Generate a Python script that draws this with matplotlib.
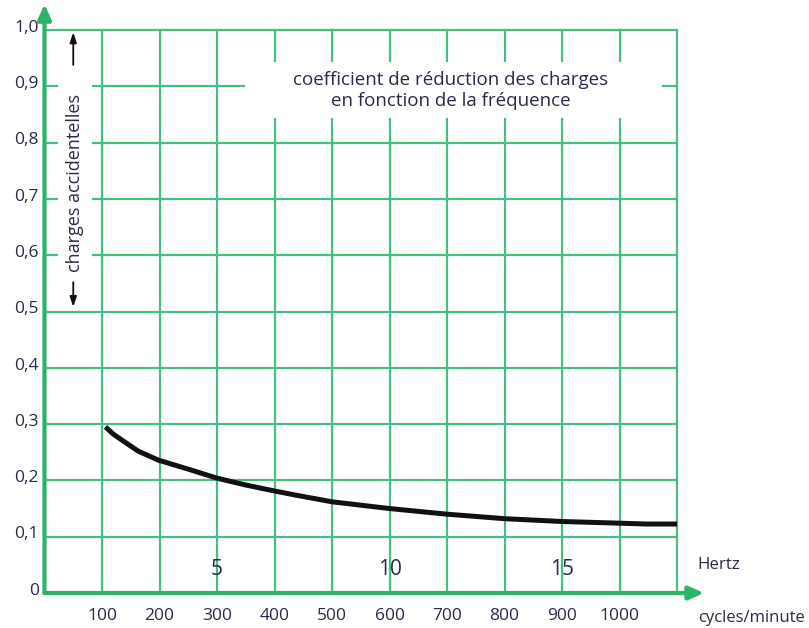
import matplotlib
matplotlib.use("Agg")
import matplotlib.pyplot as plt
from matplotlib.patches import Rectangle

plt.rcParams['font.family'] = ['Open Sans', 'DejaVu Sans']

# Data
cycles = [106, 120, 134, 163, 198, 250, 300, 349, 401, 436, 500, 600, 700, 750, 800, 900, 1000, 1047, 1100]
coef = [0.295, 0.282, 0.272, 0.252, 0.236, 0.220, 0.204, 0.192, 0.181, 0.174, 0.162, 0.150,
        0.140, 0.136, 0.132, 0.127, 0.124, 0.1225, 0.1225]
x_ticks = [100, 200, 300, 400, 500, 600, 700, 800, 900, 1000]
y_ticks = [0, 0.1, 0.2, 0.3, 0.4, 0.5, 0.6, 0.7, 0.8, 0.9, 1.0]
y_tick_labels = ['0', '0,1', '0,2', '0,3', '0,4', '0,5', '0,6', '0,7', '0,8', '0,9', '1,0']
hertz_pos = [300, 600, 900]
hertz_labels = ['5', '10', '15']

W, H = 809, 628
fig = plt.figure(figsize=(W / 100, H / 100), dpi=100)
x0px, x_per = 44.5, 0.575   # px per cycle/min
y0px, y_per = 593, 563      # px per unit
xmax, ymax = 1150, 1.05
ax = fig.add_axes([x0px / W, (H - y0px) / H, xmax * x_per / W, ymax * y_per / H])
ax.set_xlim(0, xmax)
ax.set_ylim(0, ymax)
for s in ax.spines.values():
    s.set_visible(False)
ax.set_xticks([])
ax.set_yticks([])

grid_c = '#45c082'
axis_c = '#2bb36b'
text_c = '#2a2a48'
xend = 1100

for xv in x_ticks + [xend]:
    ax.plot([xv, xv], [0, 1.0], color=grid_c, lw=1.6, zorder=1)
for yv in y_ticks[1:]:
    ax.plot([0, xend], [yv, yv], color=grid_c, lw=1.6, zorder=1)

# white boxes
ax.add_patch(Rectangle((349, 0.844), 1074 - 349, 0.943 - 0.844, facecolor='white', edgecolor='none', zorder=2))
ax.add_patch(Rectangle((23, 0.51), 83 - 23, 0.985 - 0.51, facecolor='white', edgecolor='none', zorder=2))

# axes with arrows
ax.annotate('', xy=(1147, 0), xytext=(0, 0),
            arrowprops=dict(arrowstyle='-|>,head_length=0.9,head_width=0.4', color=axis_c, lw=3, shrinkA=0, shrinkB=0), zorder=4)
ax.annotate('', xy=(0, 1.046), xytext=(0, 0),
            arrowprops=dict(arrowstyle='-|>,head_length=0.9,head_width=0.4', color=axis_c, lw=3, shrinkA=0, shrinkB=0), zorder=4)

# curve
ax.plot(cycles, coef, color='#111111', lw=3.6, solid_capstyle='butt', solid_joinstyle='round', zorder=5)

# tick labels
for yv, lab in zip(y_ticks, y_tick_labels):
    ax.text(-10, yv + 0.004, lab, ha='right', va='center', fontsize=12.5, color=text_c)
for xv in x_ticks:
    ax.text(xv, -0.026, str(xv), ha='center', va='top', fontsize=12.5, color=text_c)
for xv, lab in zip(hertz_pos, hertz_labels):
    ax.text(xv, 0.042, lab, ha='center', va='center', fontsize=15, color=text_c)

ax.text(1136, 0.05, 'Hertz', ha='left', va='center', fontsize=12.2, color=text_c)
ax.text(1136, -0.03, 'cycles/minute', ha='left', va='top', fontsize=12, color=text_c)

ax.text(707, 0.893, 'coefficient de réduction des charges\nen fonction de la fréquence',
        ha='center', va='center', fontsize=13.5, color=text_c, linespacing=1.2, zorder=3)

# side label with arrows
ax.text(53, 0.728, 'charges accidentelles', rotation=90, ha='center', va='center',
        fontsize=13, color=text_c, zorder=3)
ax.annotate('', xy=(50, 0.996), xytext=(50, 0.938),
            arrowprops=dict(arrowstyle='-|>,head_length=0.6,head_width=0.2', color='#111111', lw=1.3, shrinkA=0, shrinkB=0), zorder=3)
ax.annotate('', xy=(50, 0.508), xytext=(50, 0.552),
            arrowprops=dict(arrowstyle='-|>,head_length=0.6,head_width=0.2', color='#111111', lw=1.3, shrinkA=0, shrinkB=0), zorder=3)

fig.savefig('out.png', dpi=100)
